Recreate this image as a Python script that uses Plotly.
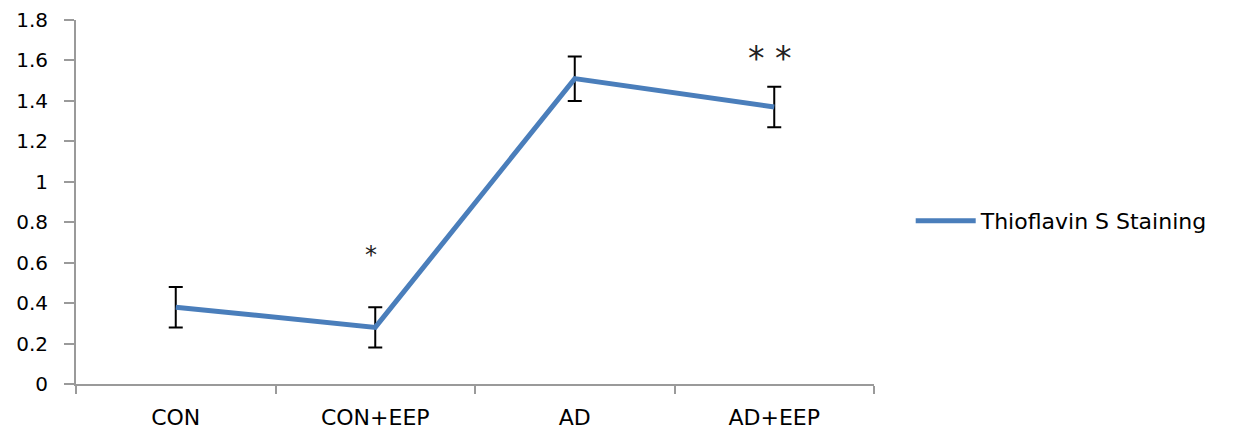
import plotly.graph_objects as go

categories = ["CON", "CON+EEP", "AD", "AD+EEP"]
values = [0.38, 0.28, 1.51, 1.37]
errors = [0.10, 0.10, 0.11, 0.10]
series_name = "Thioflavin S Staining"
y_ticks = [0, 0.2, 0.4, 0.6, 0.8, 1, 1.2, 1.4, 1.6, 1.8]
y_tick_labels = ["0", "0.2", "0.4", "0.6", "0.8", "1", "1.2", "1.4", "1.6", "1.8"]
# significance marks: (category, y value, text, font size, x shift)
marks = [("CON+EEP", 0.64, "*", 24, -4), ("AD+EEP", 1.61, "* *", 33, -4)]

font_family = "DejaVu Sans, Liberation Sans, Arial"

fig = go.Figure()
fig.add_trace(go.Scatter(
    x=categories, y=values, mode="lines", name=series_name,
    line=dict(color="#4a7ebb", width=5),
    error_y=dict(type="data", array=errors, visible=True, color="black", thickness=2, width=7),
))

for cat, yv, txt, sz, xs in marks:
    fig.add_annotation(x=cat, y=yv, text=txt, showarrow=False, xshift=xs,
                       font=dict(size=sz, color="#222", family="DejaVu Sans"))

fig.update_layout(
    width=1241, height=431,
    margin=dict(l=68, r=375, t=12, b=55),
    paper_bgcolor="white", plot_bgcolor="white",
    font=dict(family=font_family, size=19, color="black"),
    showlegend=True,
    legend=dict(x=1.046, y=0.448, xanchor="left", yanchor="middle",
                font=dict(size=22), itemwidth=60),
    xaxis=dict(type="category", range=[-0.5, 3.5], showline=True, linecolor="#9a9a9a", linewidth=2,
               ticks="outside", tickson="boundaries", ticklen=8, tickcolor="#9a9a9a",
               tickwidth=2, showgrid=False, zeroline=False, ticklabelstandoff=13,
               automargin=False, tickfont=dict(size=22)),
    yaxis=dict(range=[0, 1.8], tickvals=y_ticks, ticktext=y_tick_labels,
               showline=True, linecolor="#9a9a9a", linewidth=2,
               ticks="outside", ticklen=10, tickcolor="#9a9a9a", tickwidth=2,
               showgrid=False, zeroline=False, ticklabelstandoff=12,
               automargin=False, tickfont=dict(size=20)),
)

fig.write_html("out.html")
